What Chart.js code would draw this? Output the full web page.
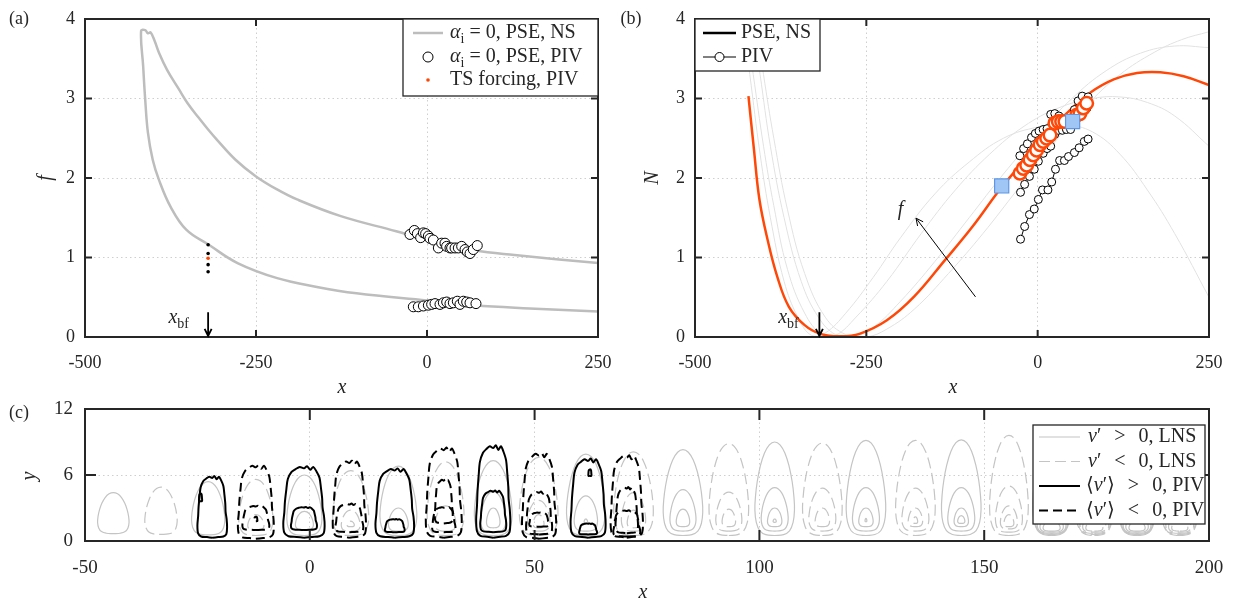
<!DOCTYPE html>
<html><head><meta charset="utf-8">
<script src="https://cdn.jsdelivr.net/npm/chart.js@4.4.1/dist/chart.umd.min.js"></script>
<style>
body{margin:0;background:#fff;width:1234px;height:599px;position:relative;overflow:hidden}
canvas{position:absolute}
</style></head><body>
<canvas id="pa" width="617" height="400" style="left:0;top:0"></canvas>
<canvas id="pb" width="617" height="400" style="left:617px;top:0"></canvas>
<canvas id="pc" width="1234" height="199" style="left:0;top:400px"></canvas>
<script>
// ---- panel (a): neutral curve (alpha_i = 0), ordered along the curve
const neutralX = [250,150,69,0,-103,-161,-219,-277,-319,-352,-375,-392,-401,-408,-412,-415,-418,-412,-408,-404,-398,-392,-380,-363,-350,-334,-320,-307,-280,-250,-220,-190,-126,-45,0,69,128,250];
const neutralF = [0.32,0.36,0.40,0.46,0.55,0.63,0.74,0.93,1.16,1.35,1.64,1.98,2.23,2.57,2.99,3.41,3.85,3.86,3.82,3.83,3.72,3.58,3.36,3.12,2.94,2.76,2.61,2.48,2.23,2.02,1.86,1.73,1.52,1.33,1.22,1.09,1.03,0.93];
const pivUpX = [-24.9,-18.5,-14.1,-9.3,-5.3,-2,2,4.4,9.3,16.6,21.4,26.3,28.7,33.6,36,41,45.8,50.7,55.6,59,62.9,67.7,73.5];
const pivUpF = [1.29,1.34,1.30,1.25,1.31,1.30,1.27,1.24,1.22,1.12,1.18,1.18,1.14,1.12,1.12,1.12,1.12,1.14,1.10,1.07,1.05,1.10,1.15];
const pivLoX = [-20,-12.7,-5.3,2,6.8,11.7,19,23.9,28.8,33.6,38.5,44.3,48.2,53.1,58,62.9,71.6];
const pivLoF = [0.38,0.38,0.39,0.40,0.41,0.42,0.41,0.43,0.44,0.42,0.43,0.45,0.41,0.45,0.44,0.43,0.42];
const tsX = [-320,-320,-320,-320,-320];
const tsF = [1.16,1.05,0.99,0.91,0.82];
const xbf = -320;

// ---- panel (b): N-factor curves
const redX = [-422,-414,-406,-394,-380,-363,-340,-317,-289,-260,-220,-180,-135,-95,-52,-9,19,48,76,111,145,179,213,250];
const redN = [3.03,2.36,1.73,1.22,0.76,0.38,0.15,0.04,0.01,0.04,0.21,0.51,0.97,1.39,1.89,2.32,2.61,2.86,3.07,3.24,3.32,3.33,3.28,3.17];
const grayAX = [-435,-420,-405,-390,-370,-350,-330,-310,-280,-240,-200,-150,-100,-50,0,40,80,120,160,200,250];
const grayAN = [4.3,3.3,2.3,1.5,0.7,0.25,0.02,0.05,0.3,0.75,1.25,1.8,2.2,2.5,2.64,2.67,2.58,2.3,1.85,1.3,0.5];
const grayBX = [-430,-415,-400,-385,-365,-340,-315,-295,-265,-220,-170,-120,-70,-20,30,80,120,160,200,250];
const grayBN = [4.2,3.3,2.4,1.65,0.85,0.3,0.03,0.02,0.25,0.7,1.3,1.85,2.3,2.65,2.88,3.0,3.02,2.95,2.78,2.4];
const grayCX = [-420,-405,-390,-370,-345,-320,-295,-270,-240,-200,-150,-100,-50,0,50,100,150,200,250];
const grayCN = [4.2,3.3,2.4,1.5,0.7,0.25,0.03,0.0,0.12,0.45,0.95,1.5,2.05,2.55,3.0,3.35,3.57,3.66,3.64];
const grayDX = [-415,-400,-385,-365,-340,-310,-280,-250,-220,-180,-130,-80,-30,20,70,120,170,210,250];
const grayDN = [4.2,3.3,2.5,1.6,0.8,0.25,0.03,0.0,0.1,0.35,0.8,1.3,1.85,2.4,2.9,3.3,3.58,3.74,3.84];
const pivRedX = [-25.8,-21,-16,-11.2,-6.4,-1.5,3.4,8.2,13.1,18,25.2,30.1,35,39.8,56.9,61.7,66.6,71.5];
const pivRedN = [2.06,2.12,2.16,2.23,2.29,2.35,2.42,2.46,2.50,2.54,2.69,2.71,2.71,2.71,2.79,2.81,2.88,2.94];
const chain1X = [-26,-20.5,-15,-9,-3.4,2,8,13.7,19,25,31,36.5,42,48,53.6,59,65,73.6];
const chain1N = [2.28,2.37,2.43,2.51,2.56,2.59,2.61,2.62,2.80,2.81,2.78,2.74,2.61,2.61,2.86,2.97,3.03,3.02];
const chain2X = [-25,-19,-12,-5,1,8,13.7,19,25,30,36,42,48,54,60,66,72];
const chain2N = [1.82,1.92,2.02,2.11,2.21,2.31,2.37,2.40,2.55,2.60,2.60,2.62,2.66,2.72,2.78,2.86,2.88];
const chain3X = [-25,-19,-12,-5,1,7,15,20.5,26,32,39,45,53.6,60.5,68,73.6];
const chain3N = [1.23,1.39,1.54,1.61,1.73,1.85,1.85,1.95,2.11,2.22,2.22,2.27,2.32,2.38,2.46,2.49];
const squareX = [-52.5,51];
const squareN = [1.90,2.71];

// ---- panel (c): contours, rings as [top, bottom, halfWidth, dx]
const bellShape = [[0,0],[0.45,0.01],[0.75,0.05],[0.93,0.14],[1,0.27],[0.97,0.42],[0.88,0.58],[0.73,0.74],[0.52,0.88],[0.27,0.97],[0,1],[-0.27,0.97],[-0.52,0.88],[-0.73,0.74],[-0.88,0.58],[-0.97,0.42],[-1,0.27],[-0.93,0.14],[-0.75,0.05],[-0.45,0.01],[0,0]];
const roughShape = [[0,0],[0.4,0.01],[0.75,0.02],[0.95,0.06],[1,0.17],[0.97,0.3],[0.9,0.42],[0.88,0.55],[0.82,0.7],[0.75,0.84],[0.6,0.93],[0.45,0.99],[0.3,0.95],[0.15,1.0],[0,0.97],[-0.2,0.99],[-0.4,0.96],[-0.6,0.92],[-0.78,0.82],[-0.85,0.68],[-0.92,0.5],[-0.95,0.35],[-1,0.2],[-0.95,0.07],[-0.75,0.02],[-0.35,0.01],[0,0]];
const lnsX = [-43.7,-33.1,-22.6,-12,-1.2,9.1,19.7,30.2,40.8,50.9,61.4,72,83,93.2,103.4,114,123.7,134.7,144.9,155.5,165,174.5,184,193.5];
const lnsSign = [1,-1,1,-1,1,-1,1,-1,1,-1,1,-1,1,-1,1,-1,1,-1,1,-1,1,-1,1,-1];
const lnsRings = [
  [[4.4,0.67,3.5]],
  [[4.9,0.6,3.6]],
  [[5.4,0.55,3.7]],
  [[5.6,0.5,3.8],[2.4,1.0,1.8]],
  [[6.0,0.5,3.9],[2.7,1.0,2.0]],
  [[6.4,0.5,4.0],[2.8,0.9,2.1],[1.8,1.3,0.8]],
  [[6.8,0.5,4.1],[3.0,0.9,2.2]],
  [[7.2,0.5,4.1],[3.2,0.9,2.3]],
  [[7.3,0.5,4.2],[4.5,0.8,2.8],[3.0,1.2,1.5]],
  [[7.6,0.5,4.3],[3.7,0.9,2.5],[2.4,1.2,1.2]],
  [[7.9,0.5,4.3],[4.1,0.9,2.6],[2.0,1.6,0.4]],
  [[8.1,0.5,4.4],[4.4,0.9,2.7],[2.8,1.2,1.4]],
  [[8.3,0.5,4.4],[4.67,0.9,2.9],[2.9,1.3,1.5]],
  [[8.85,0.5,4.4],[4.45,0.9,2.9],[2.9,1.3,1.5]],
  [[9.0,0.5,4.4],[4.85,0.9,3.0],[3.0,1.3,1.6],[2.0,1.7,0.35]],
  [[8.9,0.5,4.4],[4.8,0.9,3.0],[3.0,1.3,1.6]],
  [[9.15,0.5,4.4],[4.85,0.9,3.0],[3.0,1.3,1.6],[2.05,1.75,0.2]],
  [[9.15,0.5,4.4],[4.8,0.9,3.0],[3.0,1.3,1.6],[2.2,1.6,0.5]],
  [[9.2,0.5,4.4],[4.85,0.9,3.0],[3.0,1.3,1.6],[2.3,1.6,0.8]],
  [[9.6,0.5,4.3],[5.0,0.8,3.0],[3.2,1.1,1.9],[2.4,1.3,1.1]],
  [[9.8,0.5,4.2],[5.0,0.6,3.6],[3.3,0.7,3.2],[2.5,0.8,2.6],[1.9,0.9,1.9]],
  [[9.8,0.5,4.2],[5.0,0.6,3.6],[3.3,0.7,3.2],[2.5,0.8,2.6],[1.9,0.9,1.9]],
  [[9.7,0.5,4.1],[5.0,0.6,3.5],[3.3,0.7,3.1],[2.5,0.8,2.5],[1.9,0.9,1.8]],
  [[9.7,0.5,4.1],[5.0,0.6,3.5],[3.3,0.7,3.1],[2.5,0.8,2.5],[1.9,0.9,1.8]]
];
const pivCellX = [-21.7,-12,-1.3,8.8,18.9,29.8,40.8,51,61.9,70.5];
const pivCellSign = [1,-1,1,-1,1,-1,1,-1,1,-1];
const pivRings = [
  [[5.9,0.3,3.3],[4.3,3.6,0.35,-2.6]],
  [[6.9,0.2,4.0],[3.2,1.0,3.0],[2.2,1.8,0.35]],
  [[6.8,0.3,4.6],[3.1,1.0,2.9]],
  [[7.3,0.3,3.7],[3.4,0.8,3.1]],
  [[6.6,0.3,4.3],[2.0,0.8,2.2]],
  [[8.5,0.3,4.0],[5.6,1.6,2.0],[3.1,0.8,2.6]],
  [[8.7,0.3,3.8],[4.6,0.8,2.9]],
  [[8.0,0.2,3.8],[4.5,0.6,2.9],[2.6,1.3,2.2]],
  [[7.5,0.3,3.9],[1.6,0.6,2.0],[6.5,5.9,0.35,0.4]],
  [[7.8,0.3,3.6],[4.9,0.7,2.5],[2.8,0.4,3.0]]
];

const FF = "'Liberation Serif','DejaVu Serif','Times New Roman',serif";
Chart.defaults.font.family = FF;
const INK = '#262626';

function pts(xs, ys) { return xs.map((x, i) => ({x: x, y: ys[i]})); }
function ring(cx, r, shape) {
  const dx = r[3] || 0;
  return shape.map(p => ({x: cx + dx + p[0] * r[2], y: r[1] + p[1] * (r[0] - r[1])}));
}

function axis(min, max, step, pad, fixed, isX, fs) {
  return {
    type: 'linear', min: min, max: max,
    ticks: {stepSize: step, autoSkip: false, maxRotation: 0, padding: pad, color: INK, font: {family: FF, size: fs}},
    grid: {color: '#cfcfcf', lineWidth: 1, drawTicks: false},
    border: {display: false, dash: [1.5, 3]},
    afterFit: function(s) {
      if (isX) s.height = fixed; else s.width = fixed;
      // keep the plot box exactly where the layout padding puts it
      s.paddingLeft = 0; s.paddingRight = 0; s.paddingTop = 0; s.paddingBottom = 0;
    }
  };
}

function rich(ctx, x, y, parts, size, align) {
  const fnt = k => (k === 'i' ? 'italic ' : '') + ((k === 's') ? Math.round(size * 0.72) : size) + 'px ' + FF;
  let w = 0;
  parts.forEach(p => { ctx.font = fnt(p[1]); w += ctx.measureText(p[0]).width; });
  let cx = align === 'right' ? x - w : align === 'center' ? x - w / 2 : x;
  ctx.textBaseline = 'middle'; ctx.textAlign = 'left'; ctx.fillStyle = INK;
  parts.forEach(p => {
    ctx.font = fnt(p[1]);
    const dy = p[1] === 's' ? size * 0.3 : 0;
    ctx.fillText(p[0], cx, y + dy);
    cx += ctx.measureText(p[0]).width;
  });
}

function arrow(ctx, x1, y1, x2, y2, lw, hs) {
  const a = Math.atan2(y2 - y1, x2 - x1);
  ctx.save(); ctx.strokeStyle = '#000'; ctx.lineWidth = lw;
  ctx.beginPath(); ctx.moveTo(x1, y1); ctx.lineTo(x2, y2);
  ctx.moveTo(x2 - hs * Math.cos(a - 0.45), y2 - hs * Math.sin(a - 0.45));
  ctx.lineTo(x2, y2);
  ctx.lineTo(x2 - hs * Math.cos(a + 0.45), y2 - hs * Math.sin(a + 0.45));
  ctx.stroke(); ctx.restore();
}

function frame(chart, len) {
  const ctx = chart.ctx, a = chart.chartArea, x = chart.scales.x, y = chart.scales.y;
  ctx.save(); ctx.strokeStyle = INK; ctx.lineWidth = 2;
  ctx.beginPath();
  x.ticks.forEach(t => {
    const p = x.getPixelForValue(t.value);
    ctx.moveTo(p, a.bottom); ctx.lineTo(p, a.bottom - len);
    ctx.moveTo(p, a.top); ctx.lineTo(p, a.top + len);
  });
  y.ticks.forEach(t => {
    const p = y.getPixelForValue(t.value);
    ctx.moveTo(a.left, p); ctx.lineTo(a.left + len, p);
    ctx.moveTo(a.right, p); ctx.lineTo(a.right - len, p);
  });
  ctx.stroke();
  ctx.strokeRect(a.left, a.top, a.right - a.left, a.bottom - a.top);
  ctx.restore();
}

function label(ctx, text, x, y, size, italic, rot) {
  ctx.save(); ctx.translate(x, y); if (rot) ctx.rotate(-Math.PI / 2);
  ctx.font = (italic ? 'italic ' : '') + size + 'px ' + FF;
  ctx.fillStyle = INK; ctx.textAlign = 'center'; ctx.textBaseline = 'middle';
  ctx.fillText(text, 0, 0); ctx.restore();
}

function legendBox(ctx, x1, y1, x2, y2) {
  ctx.save(); ctx.fillStyle = '#fff'; ctx.fillRect(x1, y1, x2 - x1, y2 - y1);
  ctx.strokeStyle = INK; ctx.lineWidth = 1.3; ctx.strokeRect(x1, y1, x2 - x1, y2 - y1); ctx.restore();
}

const common = {responsive: false, animation: false, events: [],
  plugins: {legend: {display: false}, tooltip: {enabled: false}}};

// ---------- (a)
new Chart(document.getElementById('pa'), {
  type: 'scatter',
  data: {datasets: [
    {data: pts(tsX, tsF), pointRadius: 1.8, borderWidth: 0,
     pointBackgroundColor: ['#000', '#000', '#ff4500', '#000', '#000'], order: 0},
    {data: pts(pivUpX, pivUpF), pointRadius: 5, pointBackgroundColor: '#fff', pointBorderColor: '#000', pointBorderWidth: 1, order: 1},
    {data: pts(pivLoX, pivLoF), pointRadius: 5, pointBackgroundColor: '#fff', pointBorderColor: '#000', pointBorderWidth: 1, order: 1},
    {data: pts(neutralX, neutralF), showLine: true, pointRadius: 0, borderColor: '#bdbdbd', borderWidth: 2.5, tension: 0.4, order: 2}
  ]},
  options: Object.assign({}, common, {
    layout: {padding: {top: 19, right: 19, left: 0, bottom: 0}},
    scales: {x: axis(-500, 250, 250, 15, 63, true, 18), y: axis(0, 4, 1, 10, 85, false, 18)}
  }),
  plugins: [{id: 'decoA', afterDatasetsDraw(chart) {
    const ctx = chart.ctx, sx = chart.scales.x, sy = chart.scales.y;
    frame(chart, 7);
    const ax = sx.getPixelForValue(xbf);
    arrow(ctx, ax, sy.getPixelForValue(0.31), ax, sy.getPixelForValue(0) - 1, 1.8, 8);
    rich(ctx, sx.getPixelForValue(-348), sy.getPixelForValue(0.24), [['x', 'i'], ['bf', 's']], 20, 'right');
    legendBox(ctx, 403, 19, 598, 96);
    ctx.save(); ctx.strokeStyle = '#bdbdbd'; ctx.lineWidth = 2.5;
    ctx.beginPath(); ctx.moveTo(413, 33); ctx.lineTo(443, 33); ctx.stroke();
    ctx.strokeStyle = '#000'; ctx.lineWidth = 1; ctx.fillStyle = '#fff';
    ctx.beginPath(); ctx.arc(428, 57, 5, 0, 2 * Math.PI); ctx.fill(); ctx.stroke();
    ctx.fillStyle = '#ff4500'; ctx.beginPath(); ctx.arc(428, 80, 1.8, 0, 2 * Math.PI); ctx.fill();
    ctx.restore();
    rich(ctx, 450, 33, [['α', 'i'], ['i', 's'], [' = 0, PSE, NS', 'r']], 20);
    rich(ctx, 450, 57, [['α', 'i'], ['i', 's'], [' = 0, PSE, PIV', 'r']], 20);
    rich(ctx, 450, 80, [['TS forcing, PIV', 'r']], 20);
    label(ctx, '(a)', 19, 19, 18, false);
    label(ctx, 'f', 46, 178, 20, true, true);
    label(ctx, 'x', 342, 388, 20, true);
  }}]
});

// ---------- (b)
const redCol = 'rgb(255,72,8)';
const grayLine = {showLine: true, pointRadius: 0, borderColor: '#e2e2e2', borderWidth: 1, tension: 0.4, order: 4};
const chainStyle = {showLine: true, borderColor: '#000', borderWidth: 1, pointRadius: 4, pointBackgroundColor: '#fff', pointBorderColor: '#000', pointBorderWidth: 1, order: 2};
new Chart(document.getElementById('pb'), {
  type: 'scatter',
  data: {datasets: [
    Object.assign({data: pts(grayAX, grayAN)}, grayLine),
    Object.assign({data: pts(grayBX, grayBN)}, grayLine),
    Object.assign({data: pts(grayCX, grayCN)}, grayLine),
    Object.assign({data: pts(grayDX, grayDN)}, grayLine),
    {data: pts(redX, redN), showLine: true, pointRadius: 0, borderColor: redCol, borderWidth: 2.5, tension: 0.4, order: 3},
    Object.assign({data: pts(chain1X, chain1N)}, chainStyle),
    Object.assign({data: pts(chain2X, chain2N)}, chainStyle),
    Object.assign({data: pts(chain3X, chain3N)}, chainStyle),
    {data: pts(pivRedX, pivRedN), pointRadius: 6.3, pointBackgroundColor: '#fff', pointBorderColor: redCol, pointBorderWidth: 2.5, order: 1},
    {data: pts(squareX, squareN), pointStyle: 'rect', pointRadius: 10, pointBackgroundColor: 'rgb(160,198,246)', pointBorderColor: 'rgb(95,150,228)', pointBorderWidth: 1.2, order: 0}
  ]},
  options: Object.assign({}, common, {
    layout: {padding: {top: 19, right: 25, left: 0, bottom: 0}},
    scales: {x: axis(-500, 250, 250, 15, 63, true, 18), y: axis(0, 4, 1, 10, 78, false, 18)}
  }),
  plugins: [{id: 'decoB', afterDatasetsDraw(chart) {
    const ctx = chart.ctx, sx = chart.scales.x, sy = chart.scales.y;
    frame(chart, 7);
    const ax = sx.getPixelForValue(-318.5);
    arrow(ctx, ax, sy.getPixelForValue(0.31), ax, sy.getPixelForValue(0) - 1, 1.8, 8);
    rich(ctx, sx.getPixelForValue(-348.7), sy.getPixelForValue(0.24), [['x', 'i'], ['bf', 's']], 20, 'right');
    arrow(ctx, sx.getPixelForValue(-90.7), sy.getPixelForValue(0.505), sx.getPixelForValue(-177.5), sy.getPixelForValue(1.495), 1, 8);
    label(ctx, 'f', sx.getPixelForValue(-200), sy.getPixelForValue(1.6), 20, true);
    legendBox(ctx, 78, 19, 203, 71);
    ctx.save(); ctx.strokeStyle = '#000'; ctx.lineWidth = 2.5;
    ctx.beginPath(); ctx.moveTo(86, 33); ctx.lineTo(119, 33); ctx.stroke();
    ctx.lineWidth = 1; ctx.beginPath(); ctx.moveTo(86, 57); ctx.lineTo(119, 57); ctx.stroke();
    ctx.fillStyle = '#fff'; ctx.beginPath(); ctx.arc(102.5, 57, 4.5, 0, 2 * Math.PI); ctx.fill(); ctx.stroke();
    ctx.restore();
    rich(ctx, 124, 33, [['PSE, NS', 'r']], 20);
    rich(ctx, 124, 57, [['PIV', 'r']], 20);
    label(ctx, '(b)', 14, 19, 18, false);
    label(ctx, 'N', 36, 178, 20, true, true);
    label(ctx, 'x', 336, 388, 20, true);
  }}]
});

// ---------- (c)
const cSets = [];
lnsX.forEach((cx, i) => lnsRings[i].forEach(r => cSets.push({
  data: ring(cx, r, bellShape), showLine: true, pointRadius: 0, borderColor: '#c4c4c4', borderWidth: 1.2,
  borderDash: lnsSign[i] < 0 ? [11, 5] : [], tension: 0.4, order: 2
})));
pivCellX.forEach((cx, i) => pivRings[i].forEach(r => cSets.push({
  data: ring(cx, r, roughShape), showLine: true, pointRadius: 0, borderColor: '#000', borderWidth: 2,
  borderDash: pivCellSign[i] < 0 ? [9, 5] : [], tension: 0.3, order: 1
})));
new Chart(document.getElementById('pc'), {
  type: 'scatter',
  data: {datasets: cSets},
  options: Object.assign({}, common, {
    layout: {padding: {top: 9, right: 25, left: 0, bottom: 0}},
    scales: {x: axis(-50, 200, 50, 16, 58, true, 19), y: axis(0, 12, 6, 12, 85, false, 19)}
  }),
  plugins: [{id: 'decoC', afterDatasetsDraw(chart) {
    const ctx = chart.ctx;
    frame(chart, 11);
    legendBox(ctx, 1033, 25, 1205, 124);
    const rows = [37, 61.5, 86, 110.5];
    const styles = [['#c4c4c4', 1.2, []], ['#c4c4c4', 1.2, [11, 5]], ['#000', 2, []], ['#000', 2, [9, 5]]];
    ctx.save();
    rows.forEach((ry, k) => {
      ctx.strokeStyle = styles[k][0]; ctx.lineWidth = styles[k][1]; ctx.setLineDash(styles[k][2]);
      ctx.beginPath(); ctx.moveTo(1039, ry); ctx.lineTo(1080, ry); ctx.stroke();
    });
    ctx.restore();
    const sp = '\u2009\u2009';
    rich(ctx, 1088, rows[0], [['v', 'i'], ['′' + sp + ' >' + sp + ' 0, LNS', 'r']], 20);
    rich(ctx, 1088, rows[1], [['v', 'i'], ['′' + sp + ' <' + sp + ' 0, LNS', 'r']], 20);
    rich(ctx, 1086, rows[2], [['⟨', 'r'], ['v', 'i'], ['′⟩' + sp + ' >' + sp + ' 0, PIV', 'r']], 20);
    rich(ctx, 1086, rows[3], [['⟨', 'r'], ['v', 'i'], ['′⟩' + sp + ' <' + sp + ' 0, PIV', 'r']], 20);
    label(ctx, '(c)', 19, 13, 18, false);
    label(ctx, 'y', 30, 76, 20, true, true);
    label(ctx, 'x', 643, 193, 20, true);
  }}]
});
</script></body></html>
